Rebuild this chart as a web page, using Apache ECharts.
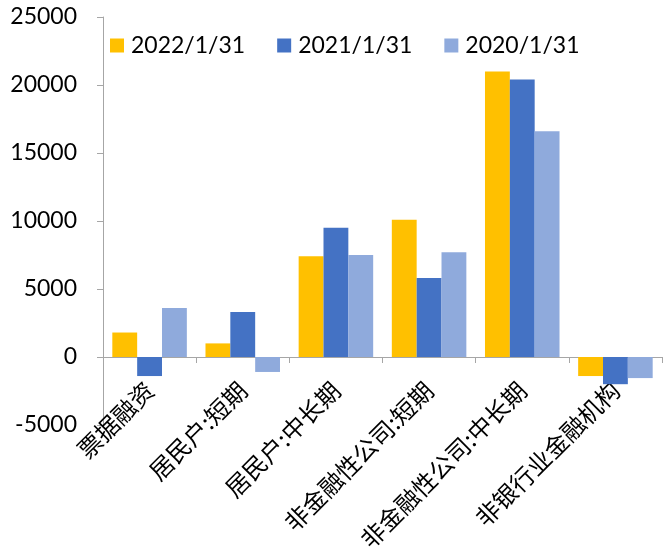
<!DOCTYPE html>
<html>
<head>
<meta charset="utf-8">
<title>chart</title>
<script src="https://cdn.jsdelivr.net/npm/echarts@6/dist/echarts.min.js"></script>
<style>
  html, body { margin: 0; padding: 0; background: #fff; }
  #main { width: 669px; height: 550px; }
</style>
</head>
<body>
<div id="main"></div>
<script>
// 分类
var categories = ['票据融资', '居民户:短期', '居民户:中长期', '非金融性公司:短期', '非金融性公司:中长期', '非银行业金融机构']
// 三个时点
var seriesNames = ['2022/1/31', '2021/1/31', '2020/1/31']
var data2022 = [1800, 1000, 7400, 10100, 21000, -1400]
var data2021 = [-1400, 3300, 9500, 5800, 20400, -2000]
var data2020 = [3600, -1100, 7500, 7700, 16600, -1550]
// y轴刻度
var yMin = -5000
var yMax = 25000
var yStep = 5000

var colors = ['#FFC000', '#4472C4', '#8FAADC']
var numFont = 'Lato'
var cjkFont = 'Noto Sans CJK SC'

var mycharts = echarts.init(document.getElementById('main'))
mycharts.setOption({
  animation: false,
  color: colors,
  legend: {
    left: 105,
    top: 29,
    itemWidth: 14,
    itemHeight: 14,
    itemGap: 32,
    icon: 'rect',
    textStyle: {
      color: '#000',
      fontFamily: numFont,
      fontSize: 23,
      padding: [0, 0, 0, 2]
    },
    data: seriesNames
  },
  grid: {
    left: 103,
    right: 7,
    top: 17,
    bottom: 125,
    containLabel: false,
    // v6 默认会把标签挤进容器，这里关掉
    outerBoundsMode: 'none'
  },
  xAxis: {
    type: 'category',
    data: categories,
    axisLine: { onZero: true, lineStyle: { color: '#A6A6A6', width: 1 } },
    axisTick: { show: true, length: 6, lineStyle: { color: '#A6A6A6' } },
    axisLabel: {
      rotate: 45,
      // 标签贴着0轴，而不是网格底部
      margin: -39,
      interval: 0,
      color: '#000',
      fontFamily: cjkFont,
      fontSize: 24
    }
  },
  yAxis: {
    type: 'value',
    min: yMin,
    max: yMax,
    interval: yStep,
    splitLine: { show: false },
    axisLine: { show: true, lineStyle: { color: '#A6A6A6', width: 1 } },
    axisTick: { show: true, length: 6, lineStyle: { color: '#A6A6A6' } },
    axisLabel: {
      margin: 26,
      color: '#000',
      fontFamily: numFont,
      fontSize: 23,
      formatter: function (v) { return String(v) }
    }
  },
  series: [
    { name: seriesNames[0], type: 'bar', data: data2022, barGap: '0%', barCategoryGap: '20%' },
    { name: seriesNames[1], type: 'bar', data: data2021, barGap: '0%', barCategoryGap: '20%' },
    { name: seriesNames[2], type: 'bar', data: data2020, barGap: '0%', barCategoryGap: '20%' }
  ]
})
</script>
</body>
</html>
